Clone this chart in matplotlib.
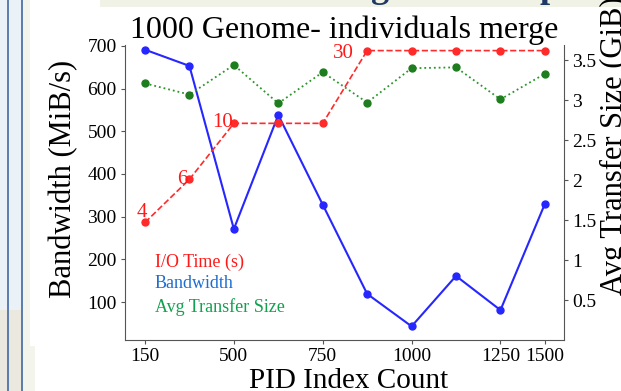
import matplotlib.pyplot as plt
from matplotlib.patches import Rectangle
from matplotlib.lines import Line2D

plt.rcParams['font.family'] = ['Liberation Serif', 'DejaVu Serif']

# data (categorical x positions, one per PID index count run)
tick_idx = [0, 2, 4, 6, 8, 9]
tick_labels = ['150', '500', '750', '1000', '1250', '1500']
bandwidth = [691, 653, 271, 538, 328, 119, 43, 161, 81, 330]            # MiB/s
transfer_size = [3.21, 3.07, 3.44, 2.96, 3.35, 2.97, 3.40, 3.41, 3.01, 3.33]  # GiB
io_height = [1.47, 2.01, 2.71, 2.71, 2.71, 3.62, 3.62, 3.62, 3.62, 3.62]  # drawn on right scale
io_label_idx = [0, 1, 2, 5]
io_labels = ['4', '6', '10', '30']
io_label_off = [(-3, 5), (-2, -5), (-1, -4), (-13, -7)]  # pixels
io_label_ha = ['center', 'right', 'right', 'right']

x = list(range(len(bandwidth)))

W, H = 621, 391
fig = plt.figure(figsize=(W / 100, H / 100), dpi=100)
fig.patch.set_facecolor('white')

# slide background bits around the chart picture
def px_rect(x0, y0, x1, y1, color):
    fig.patches.append(Rectangle((x0 / W, 1 - y1 / H), (x1 - x0) / W, (y1 - y0) / H,
                                 transform=fig.transFigure, color=color, zorder=-10, lw=0))

px_rect(0, 0, 22, 310, '#eaf2f8')
px_rect(0, 310, 22, 391, '#ebe9df')
px_rect(22, 0, 30, 391, '#f3f5ec')
px_rect(22, 346, 35, 391, '#f3f5ec')
px_rect(100, 0, 621, 7, '#eff2e5')
for lx in [8, 22]:
    fig.lines.append(Line2D([lx / W, lx / W], [0, 1], transform=fig.transFigure,
                            color='#4f72a8', lw=1.3, zorder=-5))
# bottoms of the slide heading letters, cut by the picture edge
fig.text(380 / W, 1 + 3 / H, 'g', color='#1f3864', fontsize=26, fontweight='bold',
         ha='center', va='baseline')
fig.text(550 / W, 1 + 3 / H, 'p', color='#1f3864', fontsize=26, fontweight='bold',
         ha='center', va='baseline')

ax = fig.add_axes([125 / W, 1 - 340 / H, 439 / W, 295 / H])
ax2 = ax.twinx()

ax.plot(x, bandwidth, '-o', color='#2626ff', lw=1.5, ms=5, zorder=3)
ax2.plot(x, transfer_size, ':o', color='#2a962a', lw=1.3, ms=5, mfc='#1e7d1e', mec='#1e7d1e')
ax2.plot(x, io_height, '--o', color='#ff2a2a', lw=1.2, ms=5)

for i, lab, off, ha in zip(io_label_idx, io_labels, io_label_off, io_label_ha):
    ax2.annotate(lab, (x[i], io_height[i]), xytext=off, textcoords='offset pixels',
                 color='#ff1a1a', fontsize=15, ha=ha, va='baseline')

ax.set_xlim(-0.45, 9.43)
ax.set_ylim(11, 702)
ax2.set_ylim(0, 3.69)

ax.set_xticks(tick_idx)
ax.set_xticklabels(tick_labels)
ax.set_yticks([100, 200, 300, 400, 500, 600, 700])
ax2.set_yticks([0.5, 1, 1.5, 2, 2.5, 3, 3.5])
ax2.set_yticklabels(['0.5', '1', '1.5', '2', '2.5', '3', '3.5'])

for a in (ax, ax2):
    a.tick_params(labelsize=14, length=3, pad=3, color='#555555')
    a.spines['top'].set_visible(False)
    for s in a.spines.values():
        s.set_color('#555555')
ax2.spines['left'].set_visible(False)
ax2.spines['bottom'].set_visible(False)
ax.spines['right'].set_visible(False)

ax.set_title('1000 Genome- individuals merge', fontsize=23, pad=3.6)
ax.set_xlabel('PID Index Count', fontsize=21)
ax.set_ylabel('Bandwidth (MiB/s)', fontsize=22)
ax2.set_ylabel('Avg Transfer Size (GiB)', fontsize=22)
ax.xaxis.set_label_coords(0.509, -0.095)
ax.yaxis.set_label_coords(-0.107, 0.547)
ax2.yaxis.set_label_coords(1.082, 0.66)

ax.text(0.068, 0.264, 'I/O Time (s)', transform=ax.transAxes, color='#ff1a1a',
        fontsize=13, va='center')
ax.text(0.068, 0.19, 'Bandwidth', transform=ax.transAxes, color='#1e6ed2',
        fontsize=13, va='center')
ax.text(0.068, 0.112, 'Avg Transfer Size', transform=ax.transAxes, color='#12a150',
        fontsize=13, va='center')

fig.savefig('out.png', dpi=100)
